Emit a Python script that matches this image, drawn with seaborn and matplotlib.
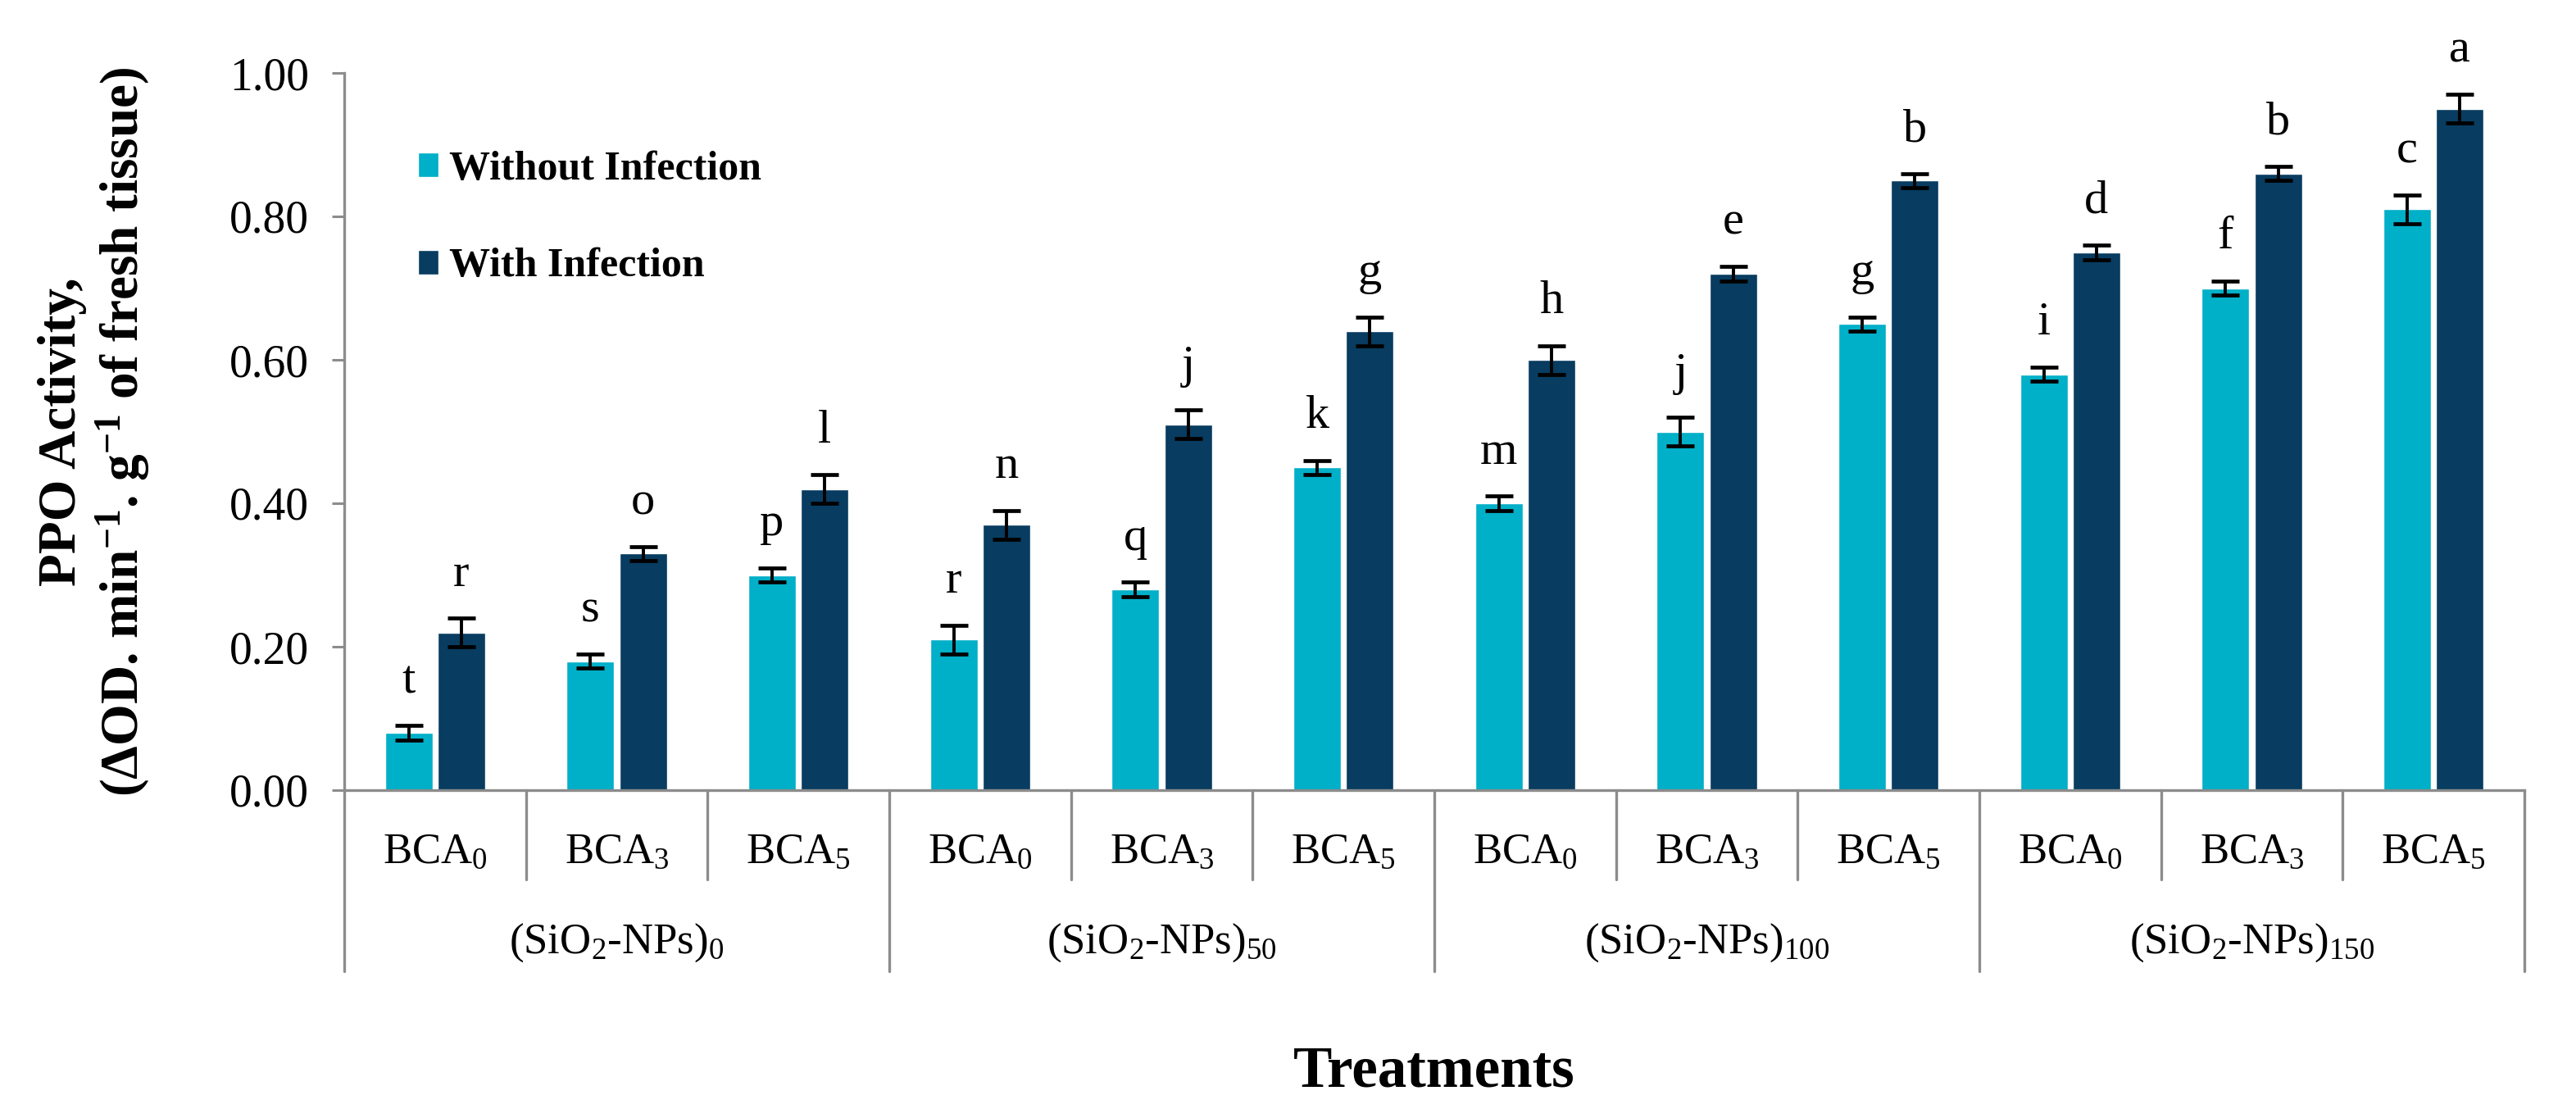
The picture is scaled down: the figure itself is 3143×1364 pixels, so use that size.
import pandas as pd
import seaborn as sns
import matplotlib.pyplot as plt
from matplotlib.patches import Patch
from matplotlib.ticker import FormatStrFormatter

# values
groups = ["(SiO$_{2}$-NPs)$_{0}$", "(SiO$_{2}$-NPs)$_{50}$",
          "(SiO$_{2}$-NPs)$_{100}$", "(SiO$_{2}$-NPs)$_{150}$"]
levels = ["BCA$_{0}$", "BCA$_{3}$", "BCA$_{5}$"]
conditions = ["Without Infection", "With Infection"]

without_inf = [0.08, 0.18, 0.30, 0.21, 0.28, 0.45, 0.40, 0.50, 0.65, 0.58, 0.70, 0.81]
with_inf = [0.22, 0.33, 0.42, 0.37, 0.51, 0.64, 0.60, 0.72, 0.85, 0.75, 0.86, 0.95]
err_without = [0.01, 0.01, 0.01, 0.02, 0.01, 0.01, 0.01, 0.02, 0.01, 0.01, 0.01, 0.02]
err_with = [0.02, 0.01, 0.02, 0.02, 0.02, 0.02, 0.02, 0.01, 0.01, 0.01, 0.01, 0.02]
letters_without = ["t", "s", "p", "r", "q", "k", "m", "j", "g", "i", "f", "c"]
letters_with = ["r", "o", "l", "n", "j", "g", "h", "e", "b", "d", "b", "a"]

light = "#00AFC8"
dark = "#083C60"
axis_grey = "#8C8C8C"

# long table for seaborn
treatments = [f"{g}|{l}" for g in groups for l in levels]
dfm = pd.DataFrame({
    "treatment": treatments * 2,
    "value": without_inf + with_inf,
    "condition": [conditions[0]] * 12 + [conditions[1]] * 12,
})

sns.set_style("white")
plt.rcParams["font.family"] = ["Liberation Serif", "DejaVu Serif"]
plt.rcParams["text.color"] = "black"
plt.rcParams["ytick.labelcolor"] = "black"
plt.rcParams["mathtext.fontset"] = "custom"
plt.rcParams["mathtext.rm"] = "Liberation Serif"
plt.rcParams["mathtext.it"] = "Liberation Serif:italic"
plt.rcParams["mathtext.bf"] = "Liberation Serif:bold"

fig = plt.figure(figsize=(31.43, 13.64), dpi=100)
ax = fig.add_axes([420 / 3143, 1 - 964 / 1364, 2660 / 3143, 875 / 1364])

sns.barplot(data=dfm, x="treatment", y="value", hue="condition", order=treatments,
            hue_order=conditions, palette=[light, dark], width=0.58, gap=0.1,
            saturation=1, errorbar=None, legend=False, ax=ax)

# error bars and significance letters on top of each bar
errs = [err_without, err_with]
letters = [letters_without, letters_with]
bar_conts = list(ax.containers)
for k, cont in enumerate(bar_conts):
    xs = [b.get_x() + b.get_width() / 2 for b in cont]
    hs = [b.get_height() for b in cont]
    ax.errorbar(xs, hs, yerr=errs[k], fmt="none", ecolor="black", elinewidth=2.8,
                capsize=12, capthick=3.4, clip_on=False, zorder=5)
    for x, h, e, lab in zip(xs, hs, errs[k], letters[k]):
        ax.text(x, h + e + 0.045, lab, ha="center", va="baseline", fontsize=42,
                color="black", clip_on=False)

ax.set_xlim(-0.5, 11.5)
ax.set_ylim(0, 1.0)
ax.set_yticks([0, 0.2, 0.4, 0.6, 0.8, 1.0])
ax.yaxis.set_major_formatter(FormatStrFormatter("%.2f"))
ax.tick_params(axis="y", labelsize=40, length=11, width=2.2, color=axis_grey,
               labelcolor="black", pad=20, direction="out", left=True)
ax.set_xticks([])
ax.set_xlabel("")
ax.set_ylabel("")
sns.despine(ax=ax)
for s in ["left", "bottom"]:
    ax.spines[s].set_color(axis_grey)
    ax.spines[s].set_linewidth(2.4)

# two-level category axis below the bars
trans = ax.get_xaxis_transform()
for k in range(13):
    bottom = -0.2526 if k % 3 == 0 else -0.1246
    ax.plot([k - 0.5, k - 0.5], [0, bottom], color=axis_grey, lw=2.4,
            transform=trans, clip_on=False)
for i, t in enumerate(treatments):
    ax.text(i, -0.087, levels[i % 3], ha="center", va="center", fontsize=38,
            color="black", transform=trans)
for j, g in enumerate(groups):
    ax.text(3 * j + 1, -0.2126, g, ha="center", va="center", fontsize=38,
            color="black", transform=trans)

fig.text(1750 / 3143, 1 - 1308 / 1364, "Treatments", ha="center", va="center",
         fontsize=51, fontweight="bold", color="black")
fig.text(116 / 3143, 1 - 527 / 1364,
         "PPO Activity,\n(ΔOD. min$^{\\mathbf{-1}}$. g$^{\\mathbf{-1}}$ of fresh tissue)",
         ha="center", va="center", rotation=90, fontsize=47, fontweight="bold",
         color="black", linespacing=1.15)

handles = [Patch(facecolor=light), Patch(facecolor=dark)]
leg = ax.legend(handles, conditions, loc="center left",
                bbox_to_anchor=(510 / 3143, 1 - 266 / 1364),
                bbox_transform=fig.transFigure, frameon=False, borderpad=0,
                borderaxespad=0, handlelength=0.5, handleheight=0.55,
                handletextpad=0.25, labelspacing=1.45,
                prop={"size": 36, "weight": "bold"})
for txt in leg.get_texts():
    txt.set_color("black")

fig.savefig("out.png", dpi=100)
